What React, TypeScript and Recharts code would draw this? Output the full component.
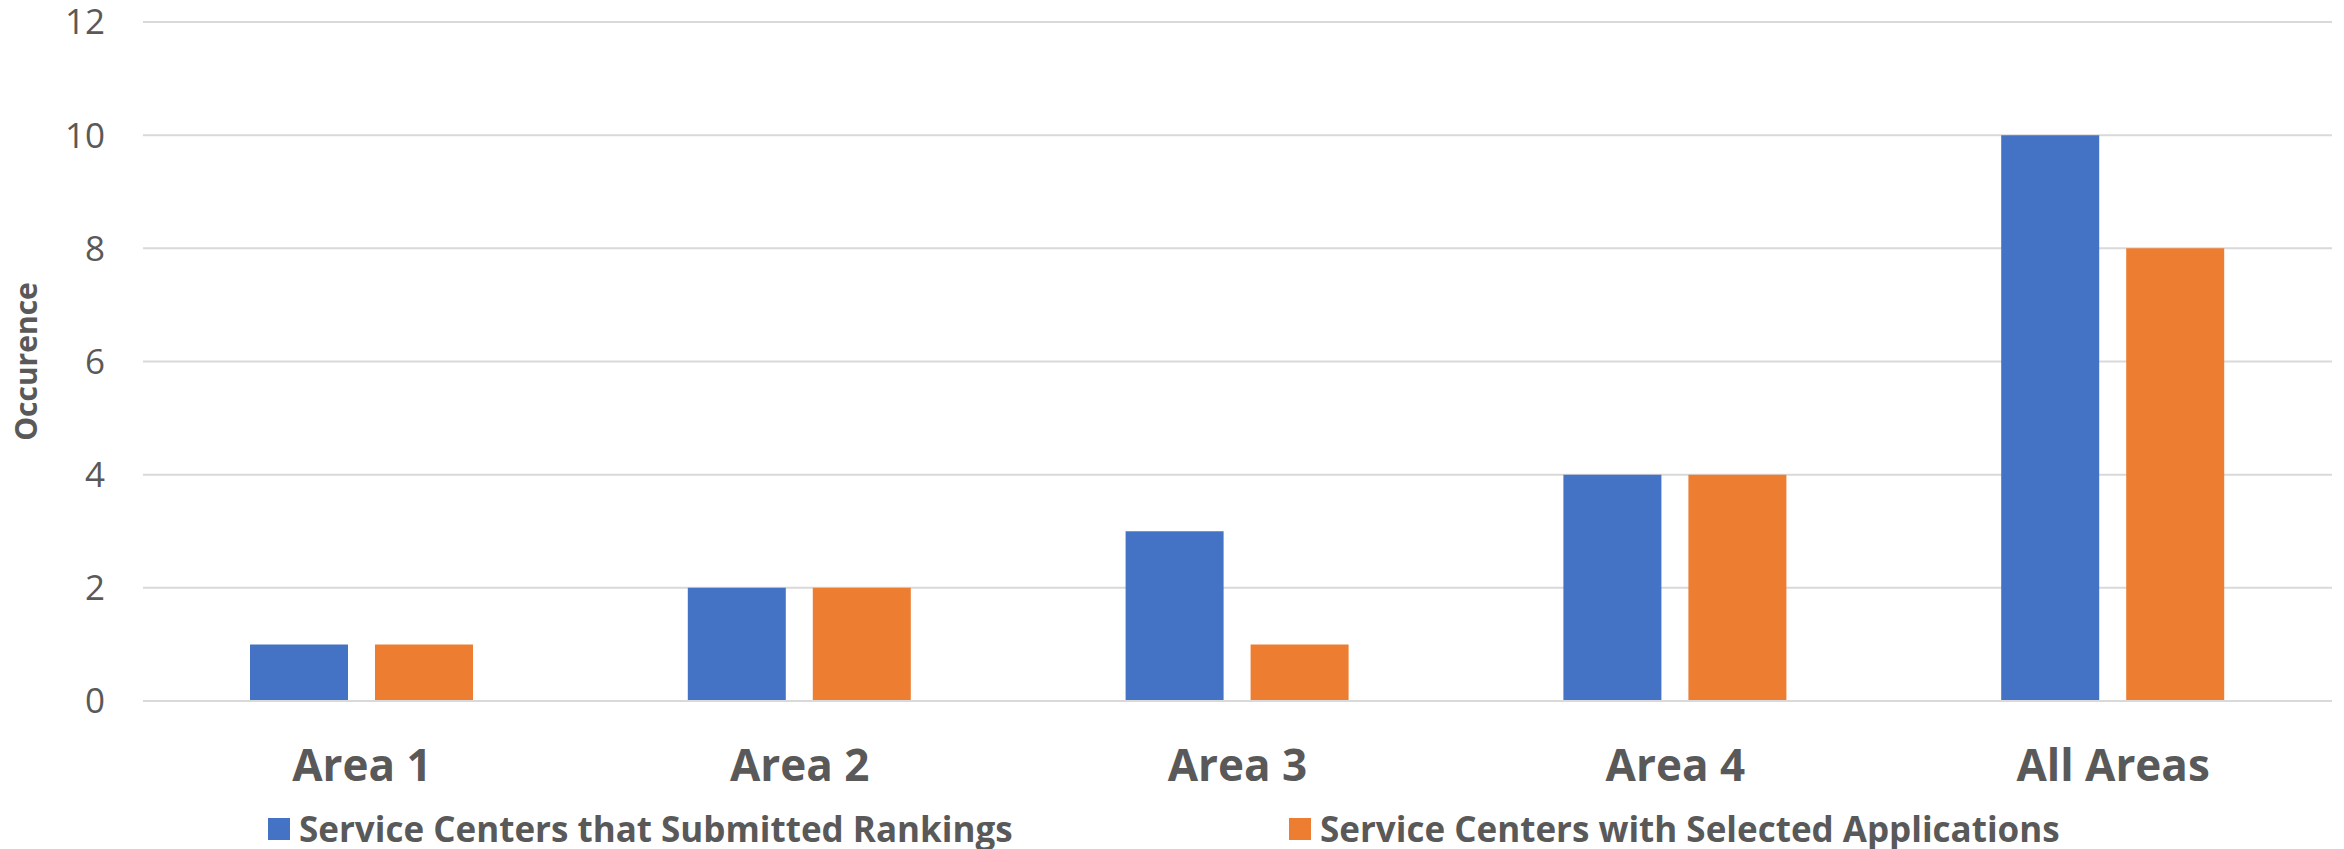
import React from 'react';
import { BarChart, Bar, XAxis, YAxis, CartesianGrid, Legend } from 'recharts';

const categories = ['Area 1', 'Area 2', 'Area 3', 'Area 4', 'All Areas'];
const submittedRankings = [1, 2, 3, 4, 10];
const selectedApplications = [1, 2, 1, 4, 8];
const yTicks = [0, 2, 4, 6, 8, 10, 12];
const seriesNames = ['Service Centers that Submitted Rankings', 'Service Centers with Selected Applications'];
const seriesColors = ['#4472C4', '#ED7D31'];

const data = categories.map((c, i) => ({
  name: c,
  submitted: submittedRankings[i],
  selected: selectedApplications[i],
}));

const TEXT = '#595959';
const FONT = "'Open Sans', 'Noto Sans', sans-serif";

const CategoryTick = (props: any) => {
  const { x, y, payload } = props;
  return (
    <text x={x} y={y} textAnchor="middle" dominantBaseline="central" fill={TEXT}
      style={{ fontFamily: FONT, fontWeight: 700, fontSize: 44 }}>
      {payload.value}
    </text>
  );
};

const YLabel = (props: any) => {
  const vb = props.viewBox || {};
  const cy = vb.y + vb.height / 2;
  const cx = 25;
  return (
    <text x={cx} y={cy} textAnchor="middle" dominantBaseline="central" fill={TEXT}
      transform={`rotate(-90, ${cx}, ${cy})`}
      style={{ fontFamily: FONT, fontWeight: 700, fontSize: 30 }}>
      Occurence
    </text>
  );
};

const LegendContent = () => (
  <div style={{ display: 'flex', alignItems: 'center', height: 41, paddingLeft: 268, fontFamily: FONT }}>
    {seriesNames.map((n, i) => (
      <div key={n} style={{ display: 'flex', alignItems: 'center', width: i === 0 ? 1021 : 820 }}>
        <div style={{ width: 22, height: 22, background: seriesColors[i], marginRight: 9, flexShrink: 0 }} />
        <span style={{ fontWeight: 700, fontSize: 35, color: TEXT, whiteSpace: 'nowrap' }}>{n}</span>
      </div>
    ))}
  </div>
);

export default function App() {
  return (
    <div style={{ position: 'absolute', left: 0, top: 0, width: 2344, height: 849, background: '#fff' }}>
      <BarChart width={2344} height={849} data={data}
        margin={{ top: 22, right: 12, bottom: 0, left: 0 }}
        barSize={98} barGap={27}>
        <CartesianGrid vertical={false} stroke="#D9D9D9" strokeWidth={2} />
        <XAxis dataKey="name" height={107} tickLine={false} tickSize={0} tickMargin={63}
          axisLine={{ stroke: '#D9D9D9', strokeWidth: 2 }} tick={<CategoryTick />} interval={0} />
        <YAxis width={143} domain={[0, 12]} ticks={yTicks} axisLine={false} tickLine={false}
          tickSize={0} tickMargin={38} interval={0}
          tick={{ fill: TEXT, fontSize: 35, fontFamily: FONT }}
          label={<YLabel />} />
        <Legend verticalAlign="bottom" content={<LegendContent />}
          wrapperStyle={{ left: 0, width: 2344, bottom: 0 }} />
        <Bar dataKey="submitted" name={seriesNames[0]} fill={seriesColors[0]} isAnimationActive={false} />
        <Bar dataKey="selected" name={seriesNames[1]} fill={seriesColors[1]} isAnimationActive={false} />
      </BarChart>
    </div>
  );
}
